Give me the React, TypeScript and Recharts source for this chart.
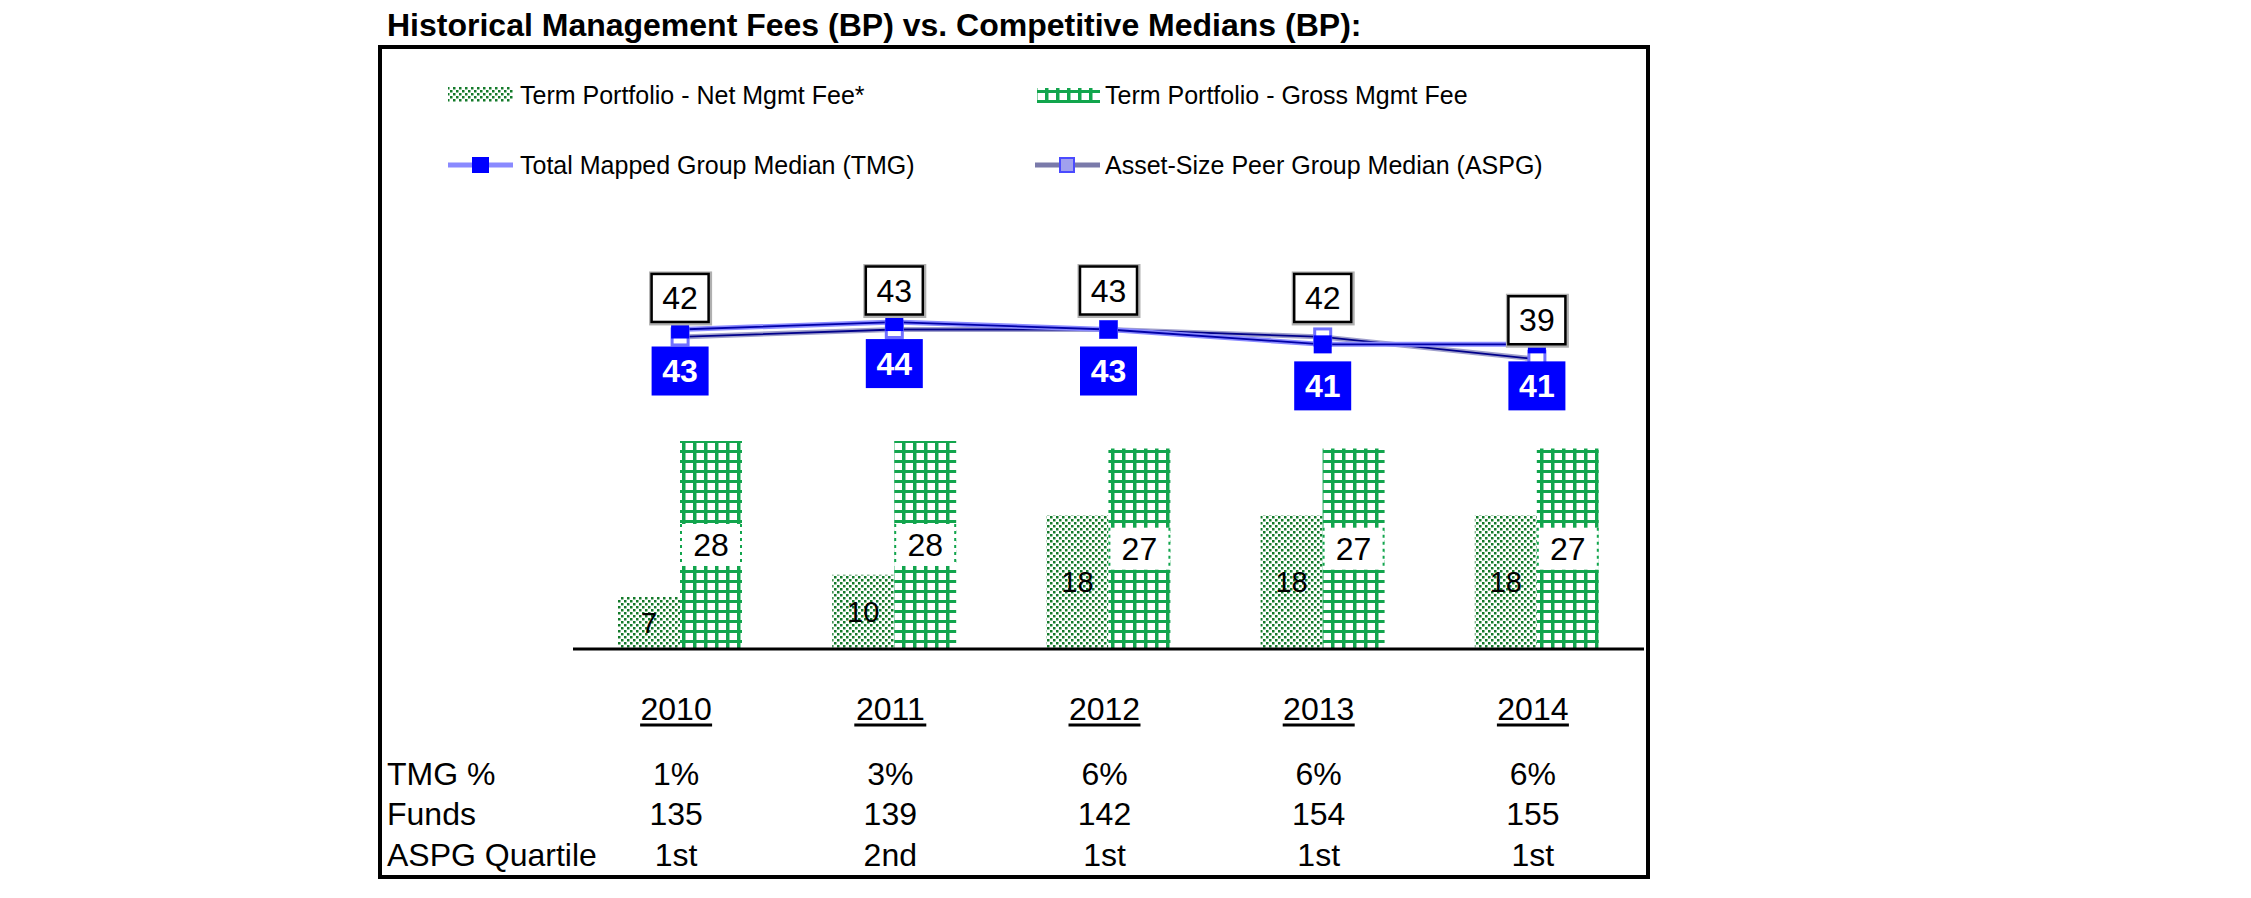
import React from 'react';
import { ComposedChart, Bar, Line, XAxis, YAxis, LabelList } from 'recharts';

const years = ['2010', '2011', '2012', '2013', '2014'];
const netFee = [7, 10, 18, 18, 18];
const grossFee = [28, 28, 27, 27, 27];
const tmgMedian = [43, 44, 43, 41, 41];
const aspgMedian = [42, 43, 43, 42, 39];
const tmgPct = ['1%', '3%', '6%', '6%', '6%'];
const funds = ['135', '139', '142', '154', '155'];
const aspgQuartile = ['1st', '2nd', '1st', '1st', '1st'];
const rowHeaders = ['TMG %', 'Funds', 'ASPG Quartile'];
const titleText = 'Historical Management Fees (BP) vs. Competitive Medians (BP):';
const legendNet = 'Term Portfolio - Net Mgmt Fee*';
const legendGross = 'Term Portfolio - Gross Mgmt Fee';
const legendTmg = 'Total Mapped Group Median (TMG)';
const legendAspg = 'Asset-Size Peer Group Median (ASPG)';

const data = years.map((y, i) => ({
  year: y,
  net: netFee[i],
  gross: grossFee[i],
  tmg: tmgMedian[i],
  aspg: aspgMedian[i],
}));

const W = 2251;
const H = 898;
const FONT = '"Liberation Sans", Arial, sans-serif';
const NET_C = '#137a2a';
const GROSS_C = '#12a54d';

const NetLabel = (p: any) => {
  const { x, y, width, height, value } = p;
  const cx = x + width / 2;
  const cy = y + height / 2;
  return (
    <text x={cx} y={cy + 10} textAnchor="middle" fontFamily={FONT} fontSize={29} fill="#000">
      {value}
    </text>
  );
};

const GrossLabel = (p: any) => {
  const { x, y, width, height, value } = p;
  const cx = x + width / 2;
  const cy = y + height / 2;
  return (
    <g>
      <rect x={x} y={cy - 21} width={width} height={42} fill="#fff" />
      <line x1={x + 1} x2={x + 1} y1={cy - 21} y2={cy + 21} stroke={GROSS_C} strokeWidth={2} strokeDasharray="3 4" />
      <line x1={x + width - 1} x2={x + width - 1} y1={cy - 21} y2={cy + 21} stroke={GROSS_C} strokeWidth={2} strokeDasharray="3 4" />
      <text x={cx} y={cy + 11} textAnchor="middle" fontFamily={FONT} fontSize={32} fill="#000">
        {value}
      </text>
    </g>
  );
};

const AspgLabel = (p: any) => {
  const { x, y, value } = p;
  const bw = 57;
  const bh = 48;
  const top = y - 15 - bh;
  return (
    <g>
      <rect x={x - bw / 2 - 1} y={top - 1} width={bw + 3} height={bh + 3} fill="none" stroke="#b0b0b0" strokeWidth={3} />
      <rect x={x - bw / 2} y={top} width={bw} height={bh} fill="#fff" stroke="#000" strokeWidth={2.5} />
      <text x={x} y={top + bh / 2 + 11} textAnchor="middle" fontFamily={FONT} fontSize={32} fill="#000">
        {value}
      </text>
    </g>
  );
};

const TmgLabel = (p: any) => {
  const { x, y, value } = p;
  const bw = 57;
  const bh = 49;
  const top = y + 17;
  return (
    <g>
      <rect x={x - bw / 2} y={top} width={bw} height={bh} fill="#0000ff" />
      <text x={x} y={top + bh / 2 + 11} textAnchor="middle" fontFamily={FONT} fontSize={32} fontWeight="bold" fill="#fff">
        {value}
      </text>
    </g>
  );
};

const TmgDot = (p: any) => {
  const { cx, cy, index } = p;
  return <rect key={'t' + index} x={cx - 9} y={cy - 9} width={18} height={18} fill="#0000ff" />;
};

const AspgDot = (p: any) => {
  const { cx, cy, index } = p;
  return <rect key={'a' + index} x={cx - 8} y={cy - 8} width={16} height={16} fill="#fff" stroke="#7070ff" strokeWidth={3} />;
};

const YearTick = (p: any) => {
  const { x, y, payload } = p;
  const i = payload.index;
  const cx = x - 4;
  return (
    <g fontFamily={FONT} fontSize={32} fill="#000">
      <text x={cx} y={y + 71} textAnchor="middle">{years[i]}</text>
      <line x1={cx - 36} x2={cx + 36} y1={y + 76} y2={y + 76} stroke="#000" strokeWidth={3} />
      <text x={cx} y={y + 136} textAnchor="middle">{tmgPct[i]}</text>
      <text x={cx} y={y + 176} textAnchor="middle">{funds[i]}</text>
      <text x={cx} y={y + 217} textAnchor="middle">{aspgQuartile[i]}</text>
    </g>
  );
};

export default function App() {
  return (
    <div style={{ position: 'absolute', left: 0, top: 0, width: W, height: H, background: '#fff' }}>
      <svg width={0} height={0} style={{ position: 'absolute' }}>
        <defs>
          <pattern id="netPat" patternUnits="userSpaceOnUse" width={6} height={6}>
            <rect x={0} y={0} width={6} height={6} fill="#fff" />
            <rect x={0} y={0} width={2.5} height={2.5} fill={NET_C} />
            <rect x={3} y={3} width={2.5} height={2.5} fill={NET_C} />
          </pattern>
          <pattern id="grossPat" patternUnits="userSpaceOnUse" width={11} height={10}>
            <rect x={0} y={0} width={11} height={10} fill="#fff" />
            <rect x={0} y={0} width={3.5} height={10} fill={GROSS_C} />
            <rect x={0} y={0} width={11} height={3} fill={GROSS_C} />
          </pattern>
        </defs>
      </svg>
      <div style={{ position: 'absolute', left: 0, top: 0 }}>
        <ComposedChart
          width={W}
          height={H}
          data={data}
          margin={{ left: 573, right: W - 1644, top: 277.5, bottom: 0 }}
          barGap={0}
          barCategoryGap={0}
        >
          <XAxis
            dataKey="year"
            height={249}
            tickLine={false}
            tickSize={0}
            tickMargin={0}
            axisLine={{ stroke: '#000', strokeWidth: 3 }}
            tick={<YearTick />}
            interval={0}
          />
          <YAxis hide width={0} domain={[0, 50]} />
          <Bar dataKey="net" fill="url(#netPat)" barSize={62} isAnimationActive={false}>
            <LabelList dataKey="net" content={<NetLabel />} />
          </Bar>
          <Bar dataKey="gross" fill="url(#grossPat)" barSize={62} isAnimationActive={false}>
            <LabelList dataKey="gross" content={<GrossLabel />} />
          </Bar>
          <Line dataKey="aspg" stroke="#a0a0cc" strokeWidth={5} dot={false} activeDot={false} isAnimationActive={false} />
          <Line dataKey="aspg" stroke="#00008a" strokeWidth={1.8} dot={<AspgDot />} activeDot={false} isAnimationActive={false}>
            <LabelList dataKey="aspg" content={<AspgLabel />} />
          </Line>
          <Line dataKey="tmg" stroke="#8a8aff" strokeWidth={5} dot={false} activeDot={false} isAnimationActive={false} />
          <Line dataKey="tmg" stroke="#0000a8" strokeWidth={1.8} dot={<TmgDot />} activeDot={false} isAnimationActive={false}>
            <LabelList dataKey="tmg" content={<TmgLabel />} />
          </Line>
        </ComposedChart>
      </div>
      <svg width={W} height={H} style={{ position: 'absolute', left: 0, top: 0, pointerEvents: 'none' }}>
        <text x={387} y={36} fontFamily={FONT} fontSize={32} fontWeight="bold" fill="#000">{titleText}</text>
        <rect x={380} y={47} width={1268} height={830} fill="none" stroke="#000" strokeWidth={4} />
        <g fontFamily={FONT} fontSize={25} fill="#000">
          <rect x={448} y={87} width={65} height={15} fill="url(#netPat)" />
          <text x={520} y={104}>{legendNet}</text>
          <rect x={1037} y={88} width={63} height={15} fill="url(#grossPat)" />
          <text x={1105} y={104}>{legendGross}</text>
          <line x1={448} x2={513} y1={165} y2={165} stroke="#8a8aff" strokeWidth={5} />
          <rect x={472} y={157} width={17} height={16} fill="#0000ff" />
          <text x={520} y={174}>{legendTmg}</text>
          <line x1={1035} x2={1100} y1={165} y2={165} stroke="#7a7aaa" strokeWidth={5} />
          <rect x={1060} y={158} width={14} height={14} fill="#a0a0ee" stroke="#4a4aff" strokeWidth={2} />
          <text x={1105} y={174}>{legendAspg}</text>
        </g>
        <g fontFamily={FONT} fontSize={32} fill="#000">
          <text x={387} y={785}>{rowHeaders[0]}</text>
          <text x={387} y={825}>{rowHeaders[1]}</text>
          <text x={387} y={866}>{rowHeaders[2]}</text>
        </g>
      </svg>
    </div>
  );
}
